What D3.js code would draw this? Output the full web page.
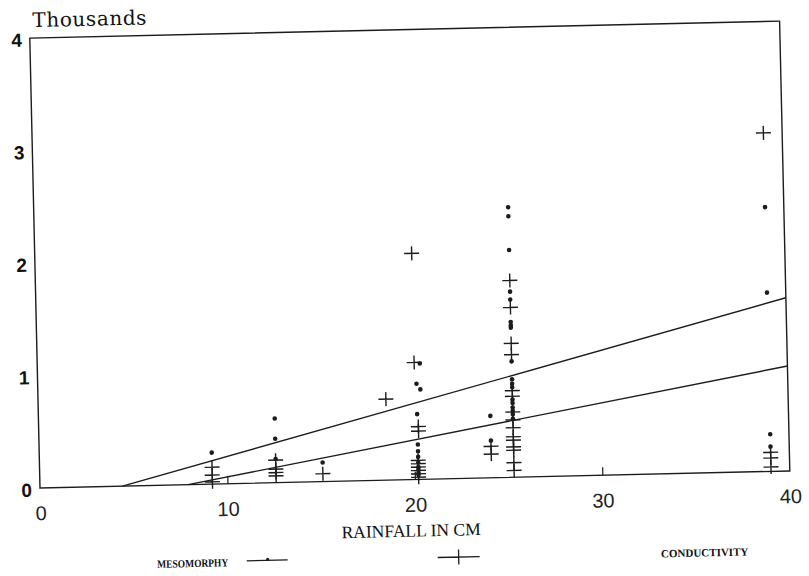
<!DOCTYPE html>
<html>
<head>
<meta charset="utf-8">
<script src="https://cdn.jsdelivr.net/npm/d3@7"></script>
<style>
  body { margin: 0; background: #fff; }
  svg { display: block; }
</style>
</head>
<body>
<svg id="chart" width="809" height="576"></svg>
<script>
// Axis ticks (rainfall in cm, values in thousands)
const xTicks = [0, 10, 20, 30, 40];
const yTicks = [0, 1, 2, 3, 4];

// Mesomorphy observations: [rainfall cm, value in thousands]
const mesomorphy = [
  [9.2, 0.28],
  [12.6, 0.57], [12.6, 0.39], [12.6, 0.21],
  [15.1, 0.17],
  [20.4, 1.03], [20.2, 0.85], [20.4, 0.80], [20.2, 0.58], [20.2, 0.31],
  [20.2, 0.25], [20.2, 0.20], [20.2, 0.15], [20.2, 0.11], [20.2, 0.09],
  [20.2, 0.06], [20.2, 0.04],
  [24.1, 0.55], [24.1, 0.33],
  [25.3, 2.40], [25.3, 2.32], [25.3, 2.02], [25.3, 1.65], [25.3, 1.58],
  [25.3, 1.38], [25.3, 1.35], [25.3, 1.33], [25.3, 1.03], [25.3, 0.87],
  [25.3, 0.83], [25.3, 0.80], [25.3, 0.69], [25.3, 0.66], [25.3, 0.62],
  [25.3, 0.59], [25.3, 0.56], [25.3, 0.52],
  [39.0, 2.35], [39.0, 1.59], [39.0, 0.33], [39.0, 0.22]
];

// Conductivity observations: [rainfall cm, value in thousands]
const conductivity = [
  [9.2, 0.15], [9.2, 0.08], [9.2, 0.02],
  [12.6, 0.20], [12.6, 0.12], [12.6, 0.09], [12.6, 0.06],
  [15.1, 0.07],
  [18.55, 0.72],
  [20.1, 2.01], [20.1, 1.04], [20.25, 0.47], [20.25, 0.43], [20.2, 0.17],
  [20.2, 0.14], [20.2, 0.11], [20.2, 0.08], [20.2, 0.05], [20.2, 0.02],
  [24.1, 0.28], [24.1, 0.21],
  [25.3, 1.75], [25.3, 1.51], [25.3, 1.19], [25.3, 1.09], [25.3, 0.77],
  [25.3, 0.72], [25.3, 0.58], [25.3, 0.51], [25.3, 0.44], [25.3, 0.36],
  [25.3, 0.33], [25.3, 0.27], [25.3, 0.24], [25.3, 0.13], [25.3, 0.06],
  [39.0, 3.01], [39.0, 0.17], [39.0, 0.12], [39.0, 0.04]
];

// Fitted trend lines, end points [rainfall, value]
const mesomorphyTrend = [[4.4, 0], [40, 1.54]];
const conductivityTrend = [[7.9, 0], [40, 0.933]];

const ink = "#1c1c1c";
const plotLeft = 40, plotRight = 790, plotTop = 38, plotBottom = 488;

const svg = d3.select("#chart");
// The printed sheet sits slightly tilted; rotate the whole drawing about the origin corner
const page = svg.append("g").attr("transform", `rotate(-1.3, ${plotLeft}, ${plotBottom})`);

const x = d3.scaleLinear().domain([0, 40]).range([plotLeft, plotRight]);
const y = d3.scaleLinear().domain([0, 4]).range([plotBottom, plotTop]);

// Frame
page.append("rect")
  .attr("x", plotLeft).attr("y", plotTop)
  .attr("width", plotRight - plotLeft).attr("height", plotBottom - plotTop)
  .attr("fill", "none").attr("stroke", ink).attr("stroke-width", 1.4);

// X axis: inward ticks, labels below
const xAxis = page.append("g")
  .attr("transform", `translate(0,${plotBottom})`)
  .call(d3.axisBottom(x).tickValues(xTicks).tickSize(-8).tickPadding(18).tickFormat(d3.format("d")));
xAxis.select(".domain").remove();
xAxis.selectAll(".tick line").attr("stroke", ink).attr("stroke-width", 1.2)
  .filter(d => d === 0 || d === 40).remove();
xAxis.selectAll("text")
  .attr("fill", "#222").attr("font-family", "'Liberation Sans', Arial, sans-serif")
  .attr("font-size", 20);

// Y axis labels
const yAxis = page.append("g")
  .attr("transform", `translate(${plotLeft},0)`)
  .call(d3.axisLeft(y).tickValues(yTicks).tickSize(0).tickPadding(8).tickFormat(d3.format("d")));
yAxis.select(".domain").remove();
yAxis.selectAll("text")
  .attr("fill", "#111").attr("font-family", "'Liberation Sans', Arial, sans-serif")
  .attr("font-size", 19).attr("font-weight", "bold").attr("dy", "0.42em");

// Unit caption
page.append("text")
  .attr("x", 43).attr("y", 27)
  .attr("font-family", "'DejaVu Serif', serif").attr("font-size", 20)
  .attr("fill", "#111").attr("letter-spacing", 0.6)
  .text("Thousands");

// Axis title
page.append("text")
  .attr("x", 410).attr("y", 545)
  .attr("text-anchor", "middle")
  .attr("font-family", "'Liberation Serif', 'Times New Roman', serif").attr("font-size", 17.5)
  .attr("fill", "#111")
  .text("RAINFALL IN CM");

// Trend lines
const line = d3.line().x(d => x(d[0])).y(d => y(d[1]));
page.selectAll(".trend")
  .data([mesomorphyTrend, conductivityTrend])
  .join("path")
  .attr("class", "trend")
  .attr("d", line)
  .attr("fill", "none").attr("stroke", ink).attr("stroke-width", 1.4);

// Mesomorphy dots
page.selectAll(".dot")
  .data(mesomorphy)
  .join("circle")
  .attr("class", "dot")
  .attr("cx", d => x(d[0])).attr("cy", d => y(d[1]))
  .attr("r", 2.3).attr("fill", ink);

// Conductivity crosses
const crossPath = (cx, cy, w, h) => `M${cx - w},${cy}H${cx + w}M${cx},${cy - h}V${cy + h}`;
page.selectAll(".cross")
  .data(conductivity)
  .join("path")
  .attr("class", "cross")
  .attr("d", d => crossPath(x(d[0]), y(d[1]), 7.5, 7))
  .attr("fill", "none").attr("stroke", ink).attr("stroke-width", 1.4);

// Legend
const legendY = 566.5;
const legend = page.append("g");
legend.append("text")
  .attr("x", 191).attr("y", legendY + 4)
  .attr("text-anchor", "middle")
  .attr("font-family", "'Liberation Serif', serif").attr("font-weight", "bold")
  .attr("font-size", 11).attr("textLength", 71).attr("lengthAdjust", "spacingAndGlyphs")
  .attr("fill", "#111")
  .text("MESOMORPHY");
legend.append("path")
  .attr("d", `M245,${legendY - 1}H286`)
  .attr("stroke", ink).attr("stroke-width", 1.3);
legend.append("circle")
  .attr("cx", 266).attr("cy", legendY - 2).attr("r", 1.6).attr("fill", ink);
legend.append("path")
  .attr("d", `M436,${legendY}H478M457,${legendY - 7.5}V${legendY + 7.5}`)
  .attr("fill", "none").attr("stroke", ink).attr("stroke-width", 1.3);
legend.append("text")
  .attr("x", 703).attr("y", legendY + 5)
  .attr("text-anchor", "middle")
  .attr("font-family", "'Liberation Serif', serif").attr("font-weight", "bold")
  .attr("font-size", 11)
  .attr("fill", "#111")
  .text("CONDUCTIVITY");
</script>
</body>
</html>
